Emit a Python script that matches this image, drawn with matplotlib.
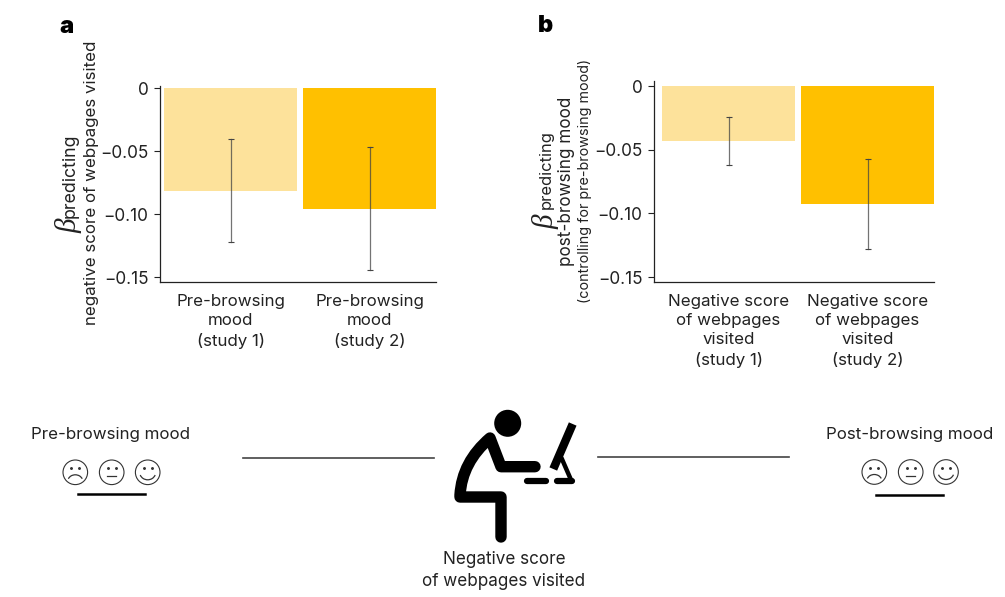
import matplotlib
matplotlib.use('Agg')
import matplotlib.pyplot as plt
from matplotlib.patches import Circle, Arc, PathPatch
from matplotlib.path import Path

plt.rcParams['font.family'] = ['Inter', 'DejaVu Sans']

W, H = 1005, 597

# panel a
labels_a = ['Pre-browsing\nmood\n(study 1)', 'Pre-browsing\nmood\n(study 2)']
beta_a = [-0.0815, -0.0958]
err_top_a = [-0.040, -0.0466]
err_bot_a = [-0.122, -0.1445]

# panel b
labels_b = ['Negative score\nof webpages\nvisited\n(study 1)', 'Negative score\nof webpages\nvisited\n(study 2)']
beta_b = [-0.0429, -0.0923]
err_top_b = [-0.0246, -0.0575]
err_bot_b = [-0.062, -0.1276]

yticks = [0, -0.05, -0.10, -0.15]
yticklabels = ['0', '\u22120.05', '\u22120.10', '\u22120.15']
colors = ['#FDE29B', '#FFC000']
ink = '#222222'


def px_axes(left, right, top, bottom):
    return fig.add_axes([left / W, 1 - bottom / H, (right - left) / W, (bottom - top) / H])


def bar_panel(ax, vals, top, bot, labels, xlim, ylim):
    ax.bar([0, 1], vals, width=0.957, color=colors)
    for i in range(2):
        ax.plot([i, i], [top[i], bot[i]], color='#444444', lw=0.9, alpha=0.75)
        ax.plot([i], [top[i]], marker='_', ms=4, color='#444444', mew=0.8)
        ax.plot([i], [bot[i]], marker='_', ms=4, color='#444444', mew=0.8)
    ax.set_xlim(xlim)
    ax.set_ylim(ylim)
    ax.set_yticks(yticks)
    ax.set_yticklabels(yticklabels, fontsize=12.4, color=ink)
    ax.set_xticks([0, 1])
    ax.set_xticklabels(labels, fontsize=12.2, color=ink, linespacing=1.37)
    ax.tick_params(axis='x', length=0, pad=8.5)
    ax.tick_params(axis='y', length=4, width=0.8, color=ink, pad=4)
    ax.spines['top'].set_visible(False)
    ax.spines['right'].set_visible(False)
    ax.spines['left'].set_linewidth(0.9)
    ax.spines['bottom'].set_linewidth(0.9)
    ax.spines['left'].set_color(ink)
    ax.spines['bottom'].set_color(ink)


fig = plt.figure(figsize=(W / 100, H / 100), dpi=100)

ax_a = px_axes(159.5, 436, 86, 281.7)
bar_panel(ax_a, beta_a, err_top_a, err_bot_a, labels_a, (-0.511, 1.478), (-0.1535, 0.0018))

ax_b = px_axes(653.7, 934, 81.3, 281.7)
bar_panel(ax_b, beta_b, err_top_b, err_bot_b, labels_b, (-0.538, 1.478), (-0.1535, 0.0037))

# overlay in pixel coordinates for the text and the diagram underneath
ov = fig.add_axes([0, 0, 1, 1])
ov.set_xlim(0, W)
ov.set_ylim(H, 0)
ov.axis('off')
ov.patch.set_alpha(0)

ov.text(66.5, 27, 'a', fontsize=17, fontweight='black', ha='center', va='center', color='black')
ov.text(545.5, 26, 'b', fontsize=17, fontweight='black', ha='center', va='center', color='black')


def rot(x, y, s, size, **kw):
    ov.text(x, y, s, fontsize=size, rotation=90, ha='center', va='center', color=ink, **kw)


# y titles
rot(69, 226, '\u03b2', 21, family='Liberation Serif', style='italic')
rot(70, 176, 'predicting', 12.8)
rot(92, 183, 'negative score of webpages visited', 12.2)

rot(546, 222, '\u03b2', 21, family='Liberation Serif', style='italic')
rot(546.5, 170, 'predicting', 11.9)
rot(566.5, 181, 'post-browsing mood', 12.3)
rot(585, 181, '(controlling for pre-browsing mood)', 10.3)

ov.text(110.5, 434.5, 'Pre-browsing mood', fontsize=12.2, ha='center', va='center', color=ink)
ov.text(909.5, 434.5, 'Post-browsing mood', fontsize=12.2, ha='center', va='center', color=ink)
ov.text(504, 570.5, 'Negative score\nof webpages visited', fontsize=12.3, ha='center', va='center',
        color=ink, linespacing=1.37)

# connecting lines
ov.plot([243, 434], [458, 458], color='#444444', lw=1.2)
ov.plot([598, 789], [457, 457], color='#444444', lw=1.2)
ov.plot([78, 145], [494, 494], color='black', lw=1.8)
ov.plot([876, 943], [494.5, 494.5], color='black', lw=1.8)


def face(x, y, kind):
    r = 12.3
    ov.add_patch(Circle((x, y), r, fill=False, ec='#333333', lw=0.8))
    ov.plot([x - 4, x + 4], [y - 4, y - 4], ls='none', marker='o', ms=1.1, color='#333333')
    if kind == 'sad':
        ov.add_patch(Arc((x, y + 9), 15, 13, theta1=200, theta2=340, ec='#333333', lw=0.9))
    elif kind == 'flat':
        ov.plot([x - 4.5, x + 4.5], [y + 4, y + 4], color='#333333', lw=0.9)
    else:
        ov.add_patch(Arc((x, y), 16, 15, theta1=20, theta2=160, ec='#333333', lw=0.9))


for x, kind in zip([75.3, 111.7, 147.7], ['sad', 'flat', 'happy']):
    face(x, 472.3, kind)
for x, kind in zip([874.3, 910.7, 946], ['sad', 'flat', 'happy']):
    face(x, 472, kind)

# person at the desk
ov.add_patch(Circle((507.7, 423.3), 13.5, color='black', lw=0))
body = Path([(535, 466.7), (501, 466.7), (490, 438), (462, 462), (460, 495), (460, 497), (501, 497), (501, 537)],
            [Path.MOVETO, Path.LINETO, Path.LINETO, Path.CURVE3, Path.CURVE3, Path.LINETO, Path.LINETO, Path.LINETO])
ov.add_patch(PathPatch(body, fill=False, ec='black', lw=8.2, capstyle='round', joinstyle='round'))
ov.plot([526.5, 546], [481, 481], color='black', lw=4.5, solid_capstyle='round')
ov.plot([557, 571.5], [481, 481], color='black', lw=4.5, solid_capstyle='round')
ov.plot([561.5, 571.5], [458, 481], color='black', lw=3.2, solid_capstyle='round')
ov.plot([572.7, 553.3], [424, 469], color='black', lw=6, solid_capstyle='butt')

fig.savefig('out.png', dpi=100)
